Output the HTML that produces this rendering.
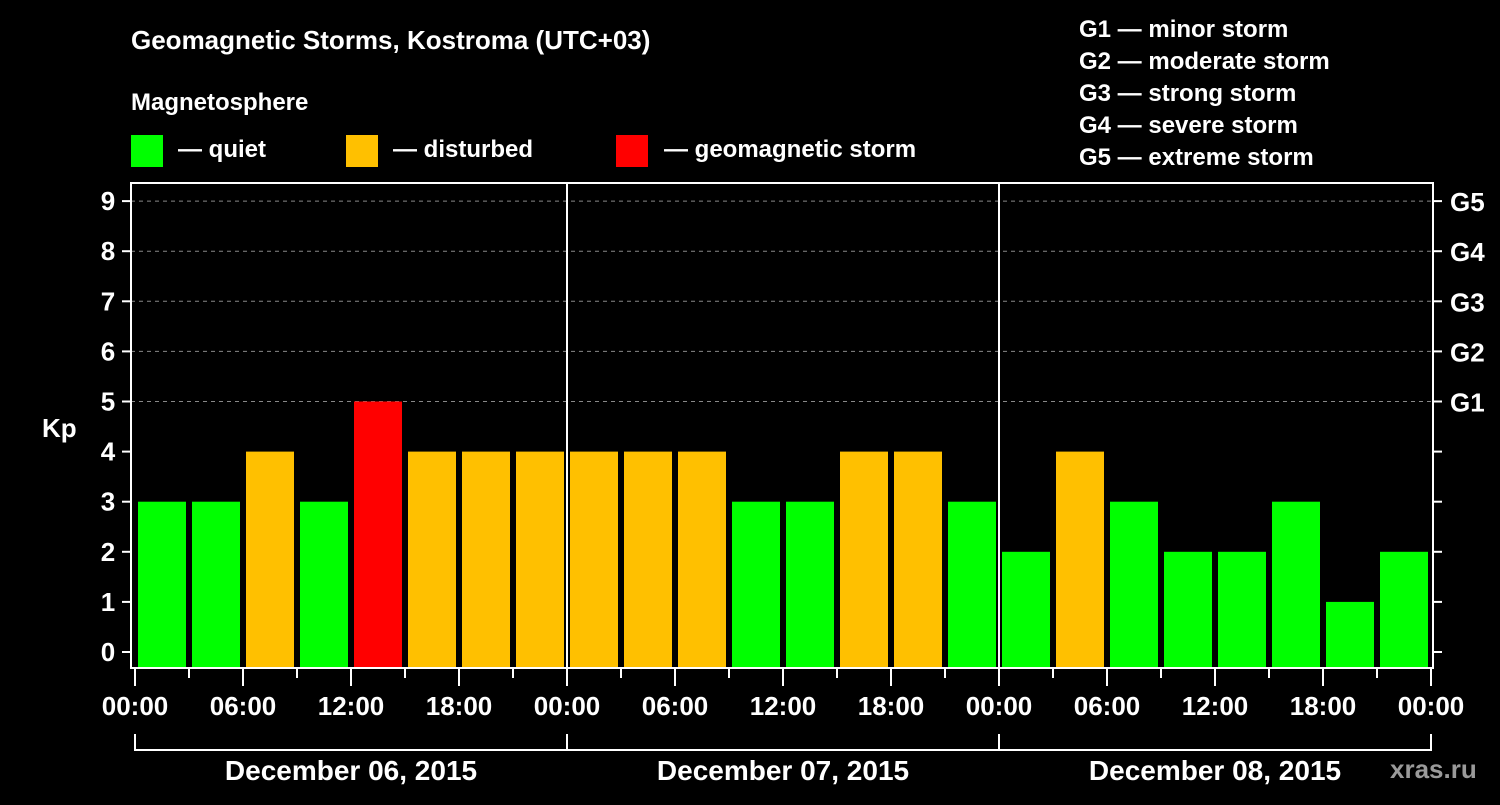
<!DOCTYPE html>
<html><head><meta charset="utf-8"><style>
body{margin:0;background:#000;width:1500px;height:800px;overflow:hidden;font-family:"Liberation Sans",Arial,sans-serif;font-weight:bold;color:#fff}
svg text{font-family:"Liberation Sans",Arial,sans-serif;font-weight:bold;fill:#fff}
</style></head><body>
<svg id="c" width="1500" height="800">
<text x="131" y="49" font-size="26">Geomagnetic Storms, Kostroma (UTC+03)</text>
<text x="131" y="110" font-size="24">Magnetosphere</text>
<rect x="131" y="135" width="32" height="32" fill="#00ff00"/>
<text x="178" y="157" font-size="24">— quiet</text>
<rect x="346" y="135" width="32" height="32" fill="#ffc000"/>
<text x="393" y="157" font-size="24">— disturbed</text>
<rect x="616" y="135" width="32" height="32" fill="#ff0000"/>
<text x="664" y="157" font-size="24">— geomagnetic storm</text>
<g font-size="24">
<text x="1079" y="37">G1 — minor storm</text>
<text x="1079" y="69">G2 — moderate storm</text>
<text x="1079" y="101">G3 — strong storm</text>
<text x="1079" y="133">G4 — severe storm</text>
<text x="1079" y="165">G5 — extreme storm</text>
</g>
<text x="42" y="437" font-size="26">Kp</text>
<text x="1390" y="778" font-size="26" fill="#aaa" style="fill:#9a9a9a">xras.ru</text>
<g id="grid"></g><g id="bars"></g><g id="axes"></g>
</svg>
<script>
const kp=[3,3,4,3,5,4,4,4, 4,4,4,3,3,4,4,3, 2,4,3,2,2,3,1,2];
const kpClass=[0,0,1,0,2,1,1,1, 1,1,1,0,0,1,1,0, 0,1,0,0,0,0,0,0];
const classColors=["#00ff00","#ffc000","#ff0000"];
const yTicks=[0,1,2,3,4,5,6,7,8,9];
const gLabels=["G1","G2","G3","G4","G5"];
const hourLabels=["00:00","06:00","12:00","18:00"];
const dayLabels=["December 06, 2015","December 07, 2015","December 08, 2015"];
const NS="http://www.w3.org/2000/svg";
const X0=135,PXH=18,Y0=652,PXK=50.1,BOT=667,TOP=183,LEFT=131,RIGHT=1433;
const xs=h=>X0+h*PXH, ys=v=>Y0-v*PXK;
function mk(t,a,p){const e=document.createElementNS(NS,t);for(const k in a)e.setAttribute(k,a[k]);p.appendChild(e);return e;}
const grid=document.getElementById('grid'),bars=document.getElementById('bars'),axes=document.getElementById('axes');
yTicks.forEach(v=>{
 if(v>=5){const l=mk('line',{x1:LEFT,x2:RIGHT,y1:ys(v),y2:ys(v),stroke:'#888','stroke-dasharray':'4,4','stroke-width':1},grid);
 
 }
 const t=mk('line',{x1:122,x2:LEFT,y1:ys(v),y2:ys(v),stroke:'#fff','stroke-width':2},axes);
 
 
 const t2=mk('line',{x1:RIGHT,x2:1442,y1:ys(v),y2:ys(v),stroke:'#fff','stroke-width':2},axes);
 
 
 const lb=mk('text',{x:108,y:ys(v)+9,'font-size':26,'text-anchor':'middle'},axes);lb.textContent=v;
 
 
});
gLabels.forEach((g,i)=>{const lb=mk('text',{x:1450,y:ys(i+5)+10,'font-size':26},axes);lb.textContent=g;
 
 });
kp.forEach((v,i)=>{const r=mk('rect',{x:xs(i*3)+3,y:ys(v),width:48,height:BOT-ys(v),fill:classColors[kpClass[i]]},bars);
 
 });
[1,2].forEach(d=>{const l=mk('line',{x1:xs(d*24),x2:xs(d*24),y1:TOP,y2:BOT,stroke:'#fff','stroke-width':2},axes);
 
 });
const f=mk('rect',{x:LEFT,y:TOP,width:RIGHT-LEFT,height:BOT+1-TOP,fill:'none',stroke:'#fff','stroke-width':2},axes);


for(let h=0;h<=72;h+=3){const major=h%6===0;
 const t=mk('line',{x1:xs(h),x2:xs(h),y1:BOT+1,y2:major?686:678,stroke:'#fff','stroke-width':2},axes);
 
 
 if(major){const lb=mk('text',{x:xs(h),y:715,'font-size':26,'text-anchor':'middle'},axes);lb.textContent=hourLabels[(h/6)%4];
 
 }}
mk('path',{d:`M${xs(0)} 734V750H${xs(72)}V734M${xs(24)} 734V750M${xs(48)} 734V750`,stroke:'#fff','stroke-width':2,fill:'none'},axes);
dayLabels.forEach((d,i)=>{const lb=mk('text',{x:xs(i*24+12),y:780,'font-size':28,'text-anchor':'middle'},axes);lb.textContent=d;
 
 });
</script>
</body></html>
